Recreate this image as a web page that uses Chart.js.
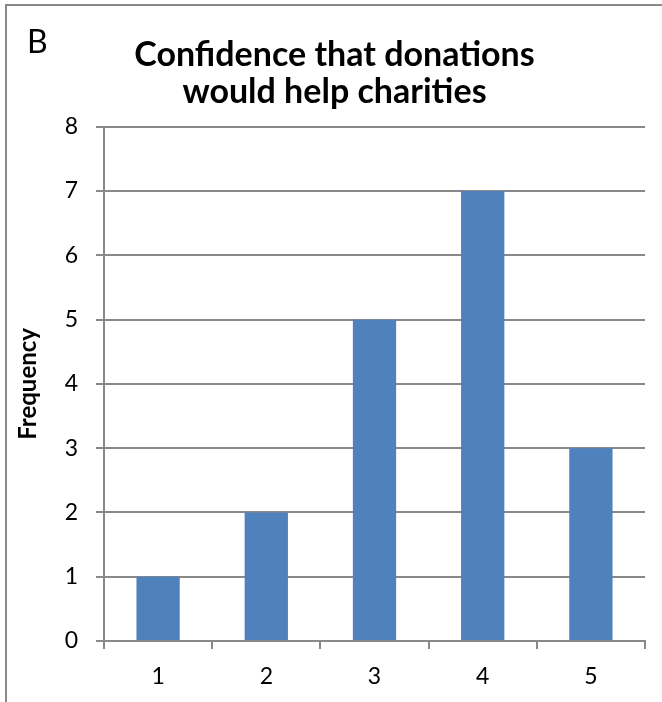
<!DOCTYPE html>
<html>
<head>
<meta charset="utf-8">
<script src="https://cdn.jsdelivr.net/npm/chart.js@4"></script>
<style>
  html, body { margin: 0; padding: 0; background: #fff; }
  #wrap { width: 662px; height: 702px; position: relative; }
</style>
</head>
<body>
<div id="wrap"><canvas id="c" width="662" height="702"></canvas></div>
<script>
// Rating scale (1–5) and how many respondents chose each rating
const ratings = ['1', '2', '3', '4', '5'];
const frequencies = [1, 2, 5, 7, 3];
const titleLines = ['Confidence that donations', 'would help charities'];
const panelLetter = 'B';
const yAxisTitle = 'Frequency';

const GRID = '#898989';
const FONT = 'Lato, "Open Sans", sans-serif';

// Panel frame (top and left edges) plus the panel letter
const panelFrame = {
  id: 'panelFrame',
  beforeDraw(chart) {
    const ctx = chart.ctx;
    ctx.save();
    ctx.strokeStyle = GRID;
    ctx.lineWidth = 2;
    ctx.beginPath();
    ctx.moveTo(6, 702);
    ctx.lineTo(6, 5);
    ctx.lineTo(662, 5);
    ctx.stroke();
    ctx.fillStyle = '#000';
    ctx.font = '32px ' + FONT;
    ctx.textBaseline = 'alphabetic';
    ctx.textAlign = 'left';
    ctx.fillText(panelLetter, 27, 53);
    ctx.restore();
  }
};

new Chart(document.getElementById('c'), {
  type: 'bar',
  data: {
    labels: ratings,
    datasets: [{
      data: frequencies,
      backgroundColor: '#4F81BD',
      borderWidth: 0,
      barPercentage: 0.4,
      categoryPercentage: 1.0
    }]
  },
  options: {
    responsive: false,
    animation: false,
    devicePixelRatio: 1,
    layout: { padding: { left: 24, right: 17, top: 0, bottom: 0 } },
    plugins: {
      legend: { display: false },
      tooltip: { enabled: false },
      title: {
        display: true,
        text: titleLines,
        color: '#000',
        font: { family: FONT, size: 34, weight: 'bold', lineHeight: 1.1 },
        padding: { top: 36, bottom: 16 }
      }
    },
    scales: {
      x: {
        grid: { drawOnChartArea: false, drawTicks: true, tickLength: 8, color: GRID, lineWidth: 2, offset: true },
        border: { display: true, color: GRID, width: 2 },
        ticks: { color: '#000', font: { family: FONT, size: 23 }, padding: 14 },
        afterFit(scale) { scale.height = 61; }
      },
      y: {
        min: 0,
        max: 8,
        ticks: { stepSize: 1, color: '#000', font: { family: FONT, size: 23 }, padding: 18 },
        grid: { color: GRID, lineWidth: 2, tickLength: 8, drawTicks: true },
        border: { display: true, color: GRID, width: 2 },
        title: {
          display: true,
          text: yAxisTitle,
          color: '#000',
          font: { family: FONT, size: 24, weight: 'bold', lineHeight: 1.2 },
          padding: { top: -10, bottom: 0 }
        },
        afterFit(scale) { scale.width = 80; }
      }
    }
  },
  plugins: [panelFrame]
});
</script>
</body>
</html>
